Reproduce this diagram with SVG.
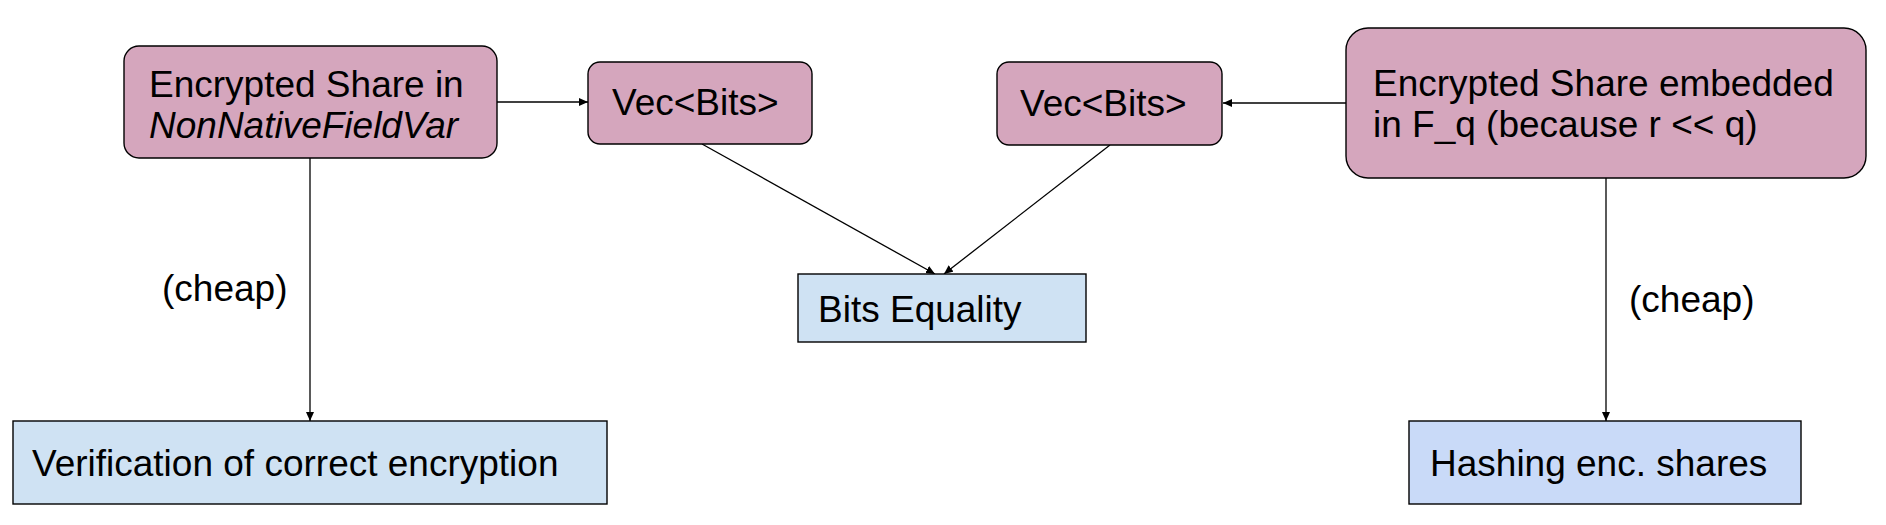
<svg xmlns="http://www.w3.org/2000/svg" width="1886" height="525" viewBox="0 0 1886 525">
  <defs>
    <marker id="arr" markerWidth="10" markerHeight="10" refX="9" refY="4" orient="auto" markerUnits="userSpaceOnUse">
      <path d="M0,0 L9,4 L0,8 Z" fill="#000"/>
    </marker>
    <style>
      .pink { fill: #d5a6bd; stroke: #000; stroke-width: 1.4; }
      .blue { fill: #cfe2f3; stroke: #000; stroke-width: 1.4; }
      .blue2 { fill: #c9daf8; stroke: #000; stroke-width: 1.4; }
      .t { font-family: "Liberation Sans", Arial, sans-serif; font-size: 37px; fill: #000; }
      .conn { stroke: #000; stroke-width: 1.3; fill: none; marker-end: url(#arr); }
    </style>
  </defs>
  <rect width="1886" height="525" fill="#fff"/>

  <g id="connectors">
    <line class="conn" x1="497" y1="102" x2="588" y2="102"/>
    <line class="conn" x1="1346" y1="103" x2="1223" y2="103"/>
    <line class="conn" x1="702" y1="144" x2="935" y2="274"/>
    <line class="conn" x1="1110" y1="145" x2="944" y2="274"/>
    <line class="conn" x1="310" y1="158" x2="310" y2="421"/>
    <line class="conn" x1="1606" y1="178" x2="1606" y2="421"/>
  </g>

  <g id="node-nonnative">
    <rect class="pink" x="124" y="46" width="373" height="112" rx="15" ry="15"/>
    <text class="t" x="149" y="97">Encrypted Share in</text>
    <text class="t" x="149" y="138" font-style="italic">NonNativeFieldVar</text>
  </g>

  <g id="node-vec1">
    <rect class="pink" x="588" y="62" width="224" height="82" rx="12" ry="12"/>
    <text class="t" x="612" y="115">Vec&lt;Bits&gt;</text>
  </g>

  <g id="node-vec2">
    <rect class="pink" x="997" y="62" width="225" height="83" rx="12" ry="12"/>
    <text class="t" x="1020" y="116">Vec&lt;Bits&gt;</text>
  </g>

  <g id="node-fq">
    <rect class="pink" x="1346" y="28" width="520" height="150" rx="22" ry="22"/>
    <text class="t" x="1373" y="96">Encrypted Share embedded</text>
    <text class="t" x="1373" y="137">in F_q (because r &lt;&lt; q)</text>
  </g>

  <g id="node-bits-equality">
    <rect class="blue" x="798" y="274" width="288" height="68"/>
    <text class="t" x="818" y="322">Bits Equality</text>
  </g>

  <g id="node-verification">
    <rect class="blue" x="13" y="421" width="594" height="83"/>
    <text class="t" x="32" y="476">Verification of correct encryption</text>
  </g>

  <g id="node-hashing">
    <rect class="blue2" x="1409" y="421" width="392" height="83"/>
    <text class="t" x="1430" y="476">Hashing enc. shares</text>
  </g>

  <g id="labels">
    <text class="t" x="162" y="301">(cheap)</text>
    <text class="t" x="1629" y="312">(cheap)</text>
  </g>
</svg>
